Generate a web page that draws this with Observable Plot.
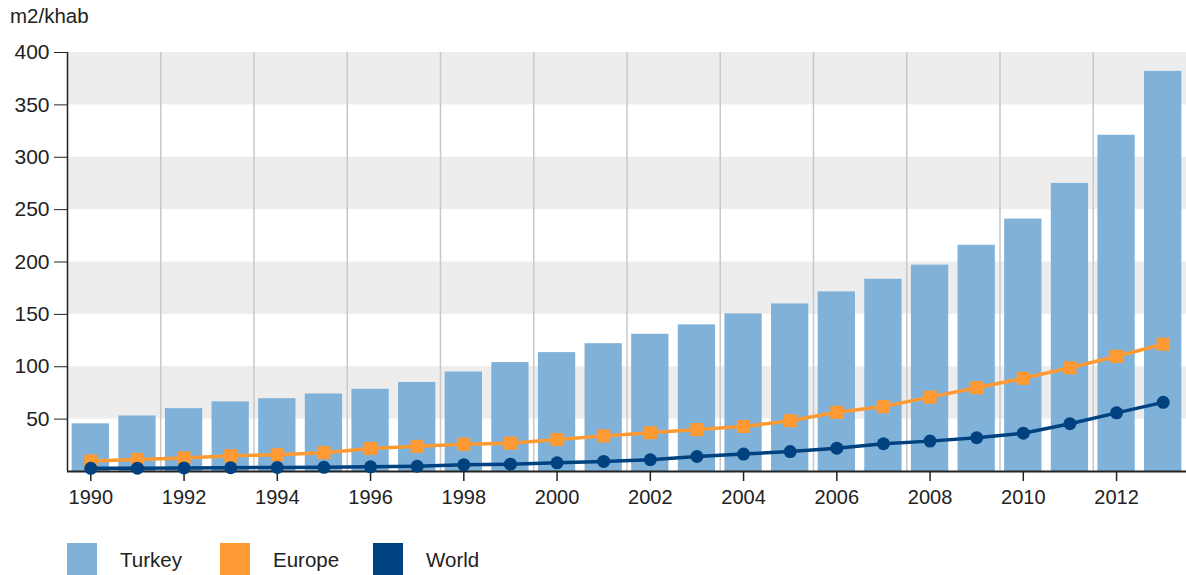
<!DOCTYPE html>
<html>
<head>
<meta charset="utf-8">
<script src="https://cdn.jsdelivr.net/npm/d3@7"></script>
<script src="https://cdn.jsdelivr.net/npm/@observablehq/plot@0.6"></script>
<style>
  html, body { margin: 0; padding: 0; background: #fff; }
  body { font-family: "Liberation Sans", Arial, sans-serif; color: #222; width: 1186px; position: relative; }
  #unit { position: absolute; left: 10px; top: 4px; font-size: 20.5px; }
  #legend { display: flex; padding-left: 67px; margin-top: 28px; font-size: 20.5px; }
  .item { display: flex; align-items: flex-start; width: 153px; }
  .swatch { width: 30px; height: 32px; margin-right: 23px; }
  .item span { padding-top: 5px; }
</style>
</head>
<body>
<div id="unit">m2/khab</div>
<div id="chart"></div>
<div id="legend"></div>
<script>
// Installed solar PV area per thousand inhabitants, 1990–2013
const years = [1990, 1991, 1992, 1993, 1994, 1995, 1996, 1997, 1998, 1999, 2000, 2001,
               2002, 2003, 2004, 2005, 2006, 2007, 2008, 2009, 2010, 2011, 2012, 2013];
const turkey = [45.5, 53, 60, 66.5, 69.5, 74, 78.5, 85, 95, 104, 113.5, 122,
                131, 140, 150.5, 160, 171.5, 183.5, 197, 216, 241, 275, 321, 382];
const europe = [10, 11.5, 13, 15, 16, 18, 22, 24, 26, 27, 30.5, 34,
                37, 40, 43, 48.5, 56.5, 62, 71, 80, 89, 99, 110, 121.5];
const world = [3, 3.2, 3.4, 3.6, 3.8, 4, 4.5, 5, 6.4, 7, 8.3, 9.6,
               11.2, 14.3, 16.6, 19, 22.3, 26.5, 29, 32.2, 36.6, 45.6, 56, 66];
const yTicks = [50, 100, 150, 200, 250, 300, 350, 400];
const xTicks = [1990, 1992, 1994, 1996, 1998, 2000, 2002, 2004, 2006, 2008, 2010, 2012];
const shadedBands = [[50, 100], [150, 200], [250, 300], [350, 400]];

const series = [
  {name: "Turkey", color: "#80b1d8"},
  {name: "Europe", color: "#fd9a33"},
  {name: "World", color: "#00427f"}
];

const rows = years.map((year, i) => ({year, turkey: turkey[i], europe: europe[i], world: world[i]}));
const xDomain = [years[0] - 0.5, years[years.length - 1] + 0.5];
const half = 0.4; // half bar width, in years

const chart = Plot.plot({
  width: 1186,
  height: 515,
  marginTop: 52,
  marginBottom: 44,
  marginLeft: 67,
  marginRight: 0,
  style: {fontFamily: "Liberation Sans, Arial, sans-serif", fontSize: "20px", color: "#222", background: "#fff"},
  x: {domain: xDomain},
  y: {domain: [0, 400]},
  marks: [
    Plot.rectY(shadedBands, {y1: d => d[0], y2: d => d[1], fill: "#ededed"}),
    Plot.ruleX(xTicks.slice(1), {x: d => d - 0.5, stroke: "#c8c8c8", strokeWidth: 1.5}),
    Plot.rectY(rows, {x1: d => d.year - half, x2: d => d.year + half, y: "turkey", fill: series[0].color}),
    Plot.axisY({ticks: yTicks, tickSize: 13, tickPadding: 5, fontSize: 21, label: null, stroke: "#222"}),
    Plot.ruleX([xDomain[0]], {y1: 0, y2: 400, stroke: "#222", strokeWidth: 1.5}),
    Plot.axisX({ticks: xTicks, tickSize: 10, tickPadding: 8, fontSize: 20, tickFormat: d => String(d), label: null, stroke: "#222", strokeWidth: 1.5}),
    Plot.ruleY([0], {stroke: "#222", strokeWidth: 2}),
    Plot.line(rows, {x: "year", y: "europe", stroke: series[1].color, strokeWidth: 3.5}),
    Plot.dot(rows, {x: "year", y: "europe", symbol: "square", r: 7.4, fill: series[1].color}),
    Plot.line(rows, {x: "year", y: "world", stroke: series[2].color, strokeWidth: 3.5}),
    Plot.dot(rows, {x: "year", y: "world", r: 6.5, fill: series[2].color})
  ]
});
document.getElementById("chart").appendChild(chart);

const legend = d3.select("#legend");
for (const s of series) {
  const item = legend.append("div").attr("class", "item");
  item.append("div").attr("class", "swatch").style("background", s.color);
  item.append("span").text(s.name);
}
</script>
</body>
</html>
